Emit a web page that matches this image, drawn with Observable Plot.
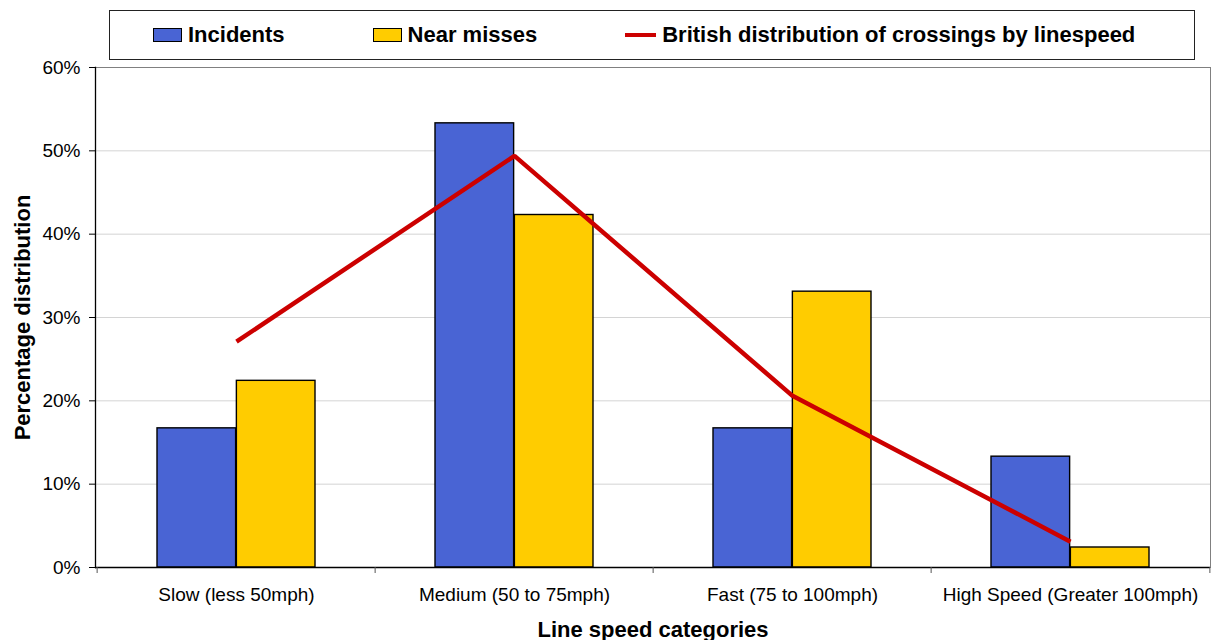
<!DOCTYPE html>
<html>
<head>
<meta charset="utf-8">
<script src="https://cdn.jsdelivr.net/npm/d3@7"></script>
<script src="https://cdn.jsdelivr.net/npm/@observablehq/plot@0.6"></script>
<style>
  html, body { margin: 0; padding: 0; background: #fff; }
  body { width: 1215px; height: 640px; overflow: hidden; font-family: "Liberation Sans", Arial, sans-serif; }
  #legend {
    box-sizing: border-box;
    margin: 10px 0 0 109px;
    width: 1086px; height: 50px;
    border: 1px solid #222;
    display: flex; align-items: center;
    padding-left: 43px;
    gap: 88px;
    font-weight: bold; font-size: 22px; color: #000;
  }
  .item { display: flex; align-items: center; gap: 6px; white-space: nowrap; }
  .sw { width: 27px; height: 12px; border: 1px solid #000; }
  .ln { width: 31px; height: 4px; }
  #chart svg { display: block; }
</style>
</head>
<body>
<div id="legend"></div>
<div id="chart"></div>
<script>
const categories = ["Slow (less 50mph)", "Medium (50 to 75mph)", "Fast (75 to 100mph)", "High Speed (Greater 100mph)"];
const incidents = [16.7, 53.3, 16.7, 13.3];
const nearMisses = [22.4, 42.3, 33.1, 2.4];
const british = [27.1, 49.4, 20.6, 3.1];
const yTicks = [0, 10, 20, 30, 40, 50, 60];
const gridTicks = [10, 20, 30, 40, 50];
const seriesNames = ["Incidents", "Near misses", "British distribution of crossings by linespeed"];
const seriesColors = ["#4964d4", "#ffcc00", "#cc0000"];
const xTitle = "Line speed categories";
const yTitle = "Percentage distribution";

// legend
const legend = document.getElementById("legend");
seriesNames.forEach((name, i) => {
  const item = document.createElement("div");
  item.className = "item";
  const sw = document.createElement("span");
  sw.className = i < 2 ? "sw" : "ln";
  sw.style.background = seriesColors[i];
  const t = document.createElement("span");
  t.textContent = name;
  item.appendChild(sw); item.appendChild(t);
  legend.appendChild(item);
});

const W = 1215, ML = 95, MR = 5;
const bw = (W - ML - MR) / categories.length;
const half = bw / 2;
const outer = 60;

const incData = categories.map((c, i) => ({cat: c, v: incidents[i]}));
const nmData = categories.map((c, i) => ({cat: c, v: nearMisses[i]}));
const brData = categories.map((c, i) => ({cat: c, v: british[i]}));

const chart = Plot.plot({
  width: W, height: 580,
  marginTop: 7, marginBottom: 73, marginLeft: ML, marginRight: MR,
  style: {fontFamily: "'Liberation Sans', Arial, sans-serif", fontSize: "19px", color: "#000", background: "white", overflow: "visible"},
  x: {type: "band", domain: categories, padding: 0, axis: null},
  y: {domain: [0, 60], axis: null},
  marks: [
    Plot.gridY(gridTicks, {stroke: "#d4d4d4", strokeOpacity: 1}),
    Plot.frame({stroke: "#808080"}),
    Plot.barY(incData, {x: "cat", y: "v", fill: seriesColors[0], stroke: "#000", strokeWidth: 1.4, insetLeft: outer, insetRight: half}),
    Plot.barY(nmData, {x: "cat", y: "v", fill: seriesColors[1], stroke: "#000", strokeWidth: 1.4, insetLeft: half, insetRight: outer}),
    Plot.line(brData, {x: "cat", y: "v", stroke: seriesColors[2], strokeWidth: 4.5, strokeLinejoin: "miter", strokeLinecap: "butt"}),
    Plot.ruleY([0], {stroke: "#000", strokeWidth: 1.3}),
    Plot.frame({anchor: "left", stroke: "#000", strokeWidth: 1.3}),
    Plot.axisY(yTicks, {tickSize: 6, tickPadding: 9, tickFormat: d => d + "%", label: null, fontSize: 19, stroke: "#000"}),
    Plot.axisX({tickSize: 0, tickPadding: 20, label: null, fontSize: 19}),
    Plot.axisX({tickSize: 6, tickFormat: () => "", label: null, dx: -half, stroke: "#555"}),
    Plot.axisX([categories[categories.length - 1]], {tickSize: 6, tickFormat: () => "", label: null, dx: half, stroke: "#555"}),
    Plot.text([yTitle], {text: d => d, frameAnchor: "left", textAnchor: "middle", lineAnchor: "middle", rotate: -90, dx: -73, fontWeight: "bold", fontSize: 22}),
    Plot.text([xTitle], {text: d => d, frameAnchor: "bottom", textAnchor: "middle", lineAnchor: "middle", dy: 62, fontWeight: "bold", fontSize: 22})
  ]
});
document.getElementById("chart").appendChild(chart);
</script>
</body>
</html>
